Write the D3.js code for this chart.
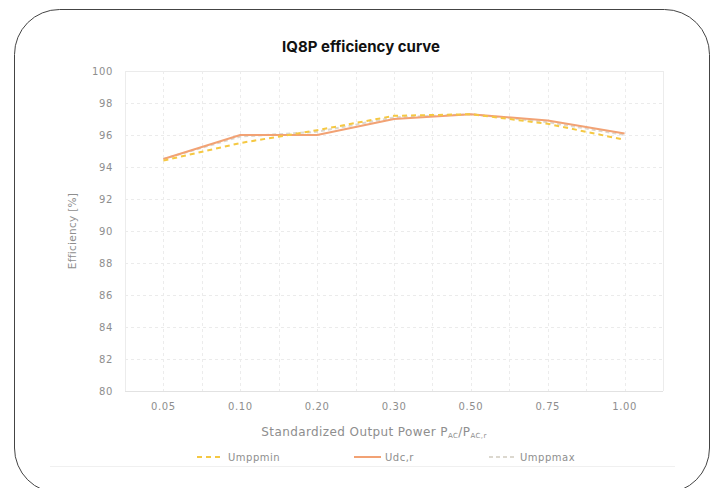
<!DOCTYPE html>
<html><head><meta charset="utf-8">
<script src="https://cdn.jsdelivr.net/npm/d3@7"></script>
<style>html,body{margin:0;padding:0;background:#fff;}svg{display:block;}</style>
</head><body>
<svg id="chart" width="721" height="488"></svg>
<script>
const categories = ["0.05","0.10","0.20","0.30","0.50","0.75","1.00"];
const umppmin = [94.4, 95.5, 96.3, 97.2, 97.3, 96.7, 95.7];
const udcr    = [94.5, 96.0, 96.0, 97.0, 97.3, 96.9, 96.1];
const umppmax = [94.5, 95.9, 96.2, 97.1, 97.3, 96.8, 96.0];
const yTicks = [80,82,84,86,88,90,92,94,96,98,100];
const seriesNames = ["Umppmin","Udc,r","Umppmax"];
const seriesColors = ["#f5c842","#f2a274","#dcd8cf"];

const svg = d3.select("#chart");
const pL = 125, pR = 663, pT = 71, pB = 391;
const font = "'DejaVu Sans', sans-serif";
const gray = "#8e8e8e";

// card
const r = 45, cx0 = 14.5, cy0 = 9.5, cx1 = 709.5, cy1 = 493;
svg.append("path")
  .attr("d", `M${cx0},${cy0+r} A${r},${r} 0 0 1 ${cx0+r},${cy0} L${cx1-r},${cy0} A${r},${r} 0 0 1 ${cx1},${cy0+r} L${cx1},${cy1-r} A${r},${r} 0 0 1 ${cx1-r},${cy1} L${cx0+r},${cy1} A${r},${r} 0 0 1 ${cx0},${cy1-r} Z`)
  .attr("fill","#fff").attr("stroke","#444").attr("stroke-width",1);

// title
svg.append("text").attr("x", 361).attr("y", 52).attr("text-anchor","middle")
  .attr("font-family","Inter, sans-serif").attr("font-weight","bold").attr("font-size",15)
  .attr("fill","#111").text("IQ8P efficiency curve");

const x = d3.scaleBand().domain(categories).range([pL, pR]).padding(0);
const y = d3.scaleLinear().domain([80,100]).range([pB, pT]);

// grid
const g = svg.append("g");
yTicks.forEach(t => {
  g.append("line").attr("x1", pL).attr("x2", pR).attr("y1", y(t)+0.5).attr("y2", y(t)+0.5)
    .attr("stroke", t===80 ? "#e2e2e2" : "#ebebeb").attr("stroke-width",1)
    .attr("stroke-dasharray", (t===80||t===100) ? null : "3,3");
});
const vlines = [];
categories.forEach(c => { vlines.push(x(c)); vlines.push(x(c)+x.bandwidth()/2); });
vlines.push(pR);
vlines.forEach((vx,i) => {
  g.append("line").attr("x1", Math.round(vx)+0.5).attr("x2", Math.round(vx)+0.5).attr("y1", pT).attr("y2", pB)
    .attr("stroke","#ececec").attr("stroke-width",1)
    .attr("stroke-dasharray", (i===0||vx===pR) ? null : "3,3");
});

// y axis labels
const yAxis = d3.axisLeft(y).tickValues(yTicks).tickSize(0).tickPadding(12);
const ya = svg.append("g").attr("transform",`translate(${pL},0)`).call(yAxis);
ya.select(".domain").remove();
ya.selectAll("text").attr("font-family",font).attr("font-size",10).attr("letter-spacing",0.6).attr("fill",gray);

// x axis labels
const xAxis = d3.axisBottom(x).tickSize(0).tickPadding(12);
const xa = svg.append("g").attr("transform",`translate(0,${pB})`).call(xAxis);
xa.select(".domain").remove();
xa.selectAll("text").attr("font-family",font).attr("font-size",10).attr("letter-spacing",0.6).attr("fill",gray);

// axis titles
svg.append("text").attr("transform",`translate(76,${(pT+pB)/2}) rotate(-90)`)
  .attr("text-anchor","middle").attr("font-family",font).attr("font-size",10.5).attr("letter-spacing",0.3).attr("fill",gray)
  .text("Efficiency [%]");
const xt = svg.append("text").attr("x", 374).attr("y", 436).attr("text-anchor","middle")
  .attr("font-family",font).attr("font-size",12).attr("letter-spacing",0.4).attr("fill",gray);
xt.append("tspan").text("Standardized Output Power P");
xt.append("tspan").attr("font-size",7).attr("dy",2).text("AC");
xt.append("tspan").attr("dy",-2).text("/P");
xt.append("tspan").attr("font-size",7).attr("dy",2).text("AC,r");

// lines
const line = d3.line().x((d,i)=>x(categories[i])+x.bandwidth()/2).y(d=>y(d));
const dashes = ["5,4", null, "4,3"];
const drawOrder = [2,1,0];
const allSeries = [umppmin, udcr, umppmax];
drawOrder.forEach(idx => {
  svg.append("path").datum(allSeries[idx]).attr("d", line).attr("fill","none")
    .attr("stroke", seriesColors[idx]).attr("stroke-width", 2)
    .attr("stroke-dasharray", dashes[idx]).attr("stroke-linejoin","round");
});

// legend
svg.append("line").attr("x1",50).attr("x2",675).attr("y1",466.5).attr("y2",466.5).attr("stroke","#f0f0f0");
const legX = [197, 354, 489];
seriesNames.forEach((n,i) => {
  svg.append("line").attr("x1",legX[i]).attr("x2",legX[i]+27).attr("y1",457).attr("y2",457)
    .attr("stroke",seriesColors[i]).attr("stroke-width",2).attr("stroke-dasharray",dashes[i]);
  svg.append("text").attr("x",legX[i]+31).attr("y",460.5).attr("font-family",font).attr("font-size",10)
    .attr("letter-spacing",0.5).attr("fill",gray).text(n);
});
</script>
</body></html>
